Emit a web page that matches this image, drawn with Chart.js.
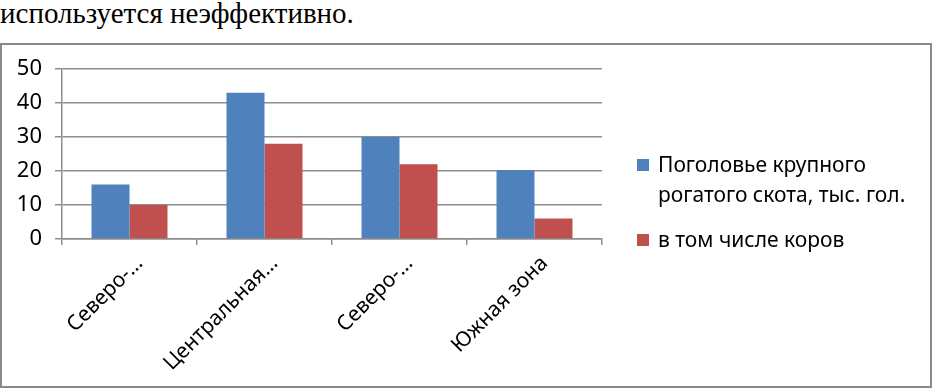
<!DOCTYPE html>
<html>
<head>
<meta charset="utf-8">
<script src="https://cdn.jsdelivr.net/npm/chart.js@4/dist/chart.umd.min.js"></script>
<style>
    body { margin: 0; background: #fff; width: 933px; height: 389px; overflow: hidden; position: relative; }
    #intro {
        position: absolute; left: 0; top: -1px;
        font: 29px/29px "Liberation Serif", "Times New Roman", serif;
        color: #000; white-space: nowrap;
    }
    #frame {
        position: absolute; left: 0; top: 43px; width: 932px; height: 345px;
        box-sizing: border-box; border: 2px solid #8a8a8a;
    }
    #chart { position: absolute; left: 0; top: 0; }
    .legend { position: absolute; left: 637px; font: 21px "Noto Sans", sans-serif; color: #000; }
    .legend .item { position: relative; padding-left: 21px; line-height: 30px; }
    .legend .box { position: absolute; left: 0; width: 12px; height: 12px; }
</style>
</head>
<body>
<div id="intro">используется неэффективно.</div>
<div id="frame"></div>
<canvas id="chart" width="933" height="389"></canvas>
<div class="legend" id="legend" style="top:149px"></div>
<script>
// Данные диаграммы
const zones = ['Северо-…', 'Центральная…', 'Северо-…', 'Южная зона'];
const cattle = [16, 43, 30, 20.3];   // Поголовье КРС, тыс. гол.
const cows = [10, 28, 22, 6];        // в том числе коров
const yTicks = [0, 10, 20, 30, 40, 50];

const seriesNames = [['Поголовье крупного', 'рогатого скота, тыс. гол.'], ['в том числе коров']];
const colors = ['#4F81BD', '#C0504D'];

const axisGrey = '#8e8e8e';

const ctx = document.getElementById('chart').getContext('2d');

const chart = new Chart(ctx, {
    type: 'bar',
    data: {
        labels: zones,
        datasets: [
            { label: seriesNames[0].join(' '), data: cattle, backgroundColor: colors[0] },
            { label: seriesNames[1].join(' '), data: cows, backgroundColor: colors[1] }
        ]
    },
    options: {
        responsive: false,
        animation: false,
        devicePixelRatio: 1,
        layout: { padding: { top: 69, right: 331, bottom: 0, left: 0 } },
        datasets: { bar: { categoryPercentage: 0.563, barPercentage: 1 } },
        plugins: { legend: { display: false }, tooltip: { enabled: false } },
        scales: {
            x: {
                grid: { drawOnChartArea: false, drawTicks: true, tickLength: 6, color: axisGrey, lineWidth: 1.5, offset: true },
                border: { display: true, color: axisGrey, width: 1.5 },
                ticks: {
                    color: '#000', font: { family: 'Noto Sans', size: 21 }, autoSkip: false,
                    maxRotation: 45, minRotation: 45, padding: 6, labelOffset: 10
                },
                afterFit: (scale) => { scale.height = 150; }
            },
            y: {
                min: 0, max: 50,
                afterBuildTicks: (scale) => { scale.ticks = yTicks.map(v => ({ value: v })); },
                grid: { color: axisGrey, lineWidth: 1.5, tickLength: 7 },
                border: { display: true, color: axisGrey, width: 1.5 },
                ticks: { color: '#000', font: { family: 'Noto Sans', size: 22 }, padding: 13 },
                afterFit: (scale) => { scale.width = 62; }
            }
        }
    }
});

// Легенда справа (многострочная подпись как в оригинале)
const legend = document.getElementById('legend');
seriesNames.forEach((lines, i) => {
    const item = document.createElement('div');
    item.className = 'item';
    item.style.marginBottom = i === 0 ? '15px' : '0';
    item.innerHTML = `<span class="box" style="background:${colors[i]};top:10px"></span>${lines.join('<br>')}`;
    legend.appendChild(item);
});
</script>
</body>
</html>
